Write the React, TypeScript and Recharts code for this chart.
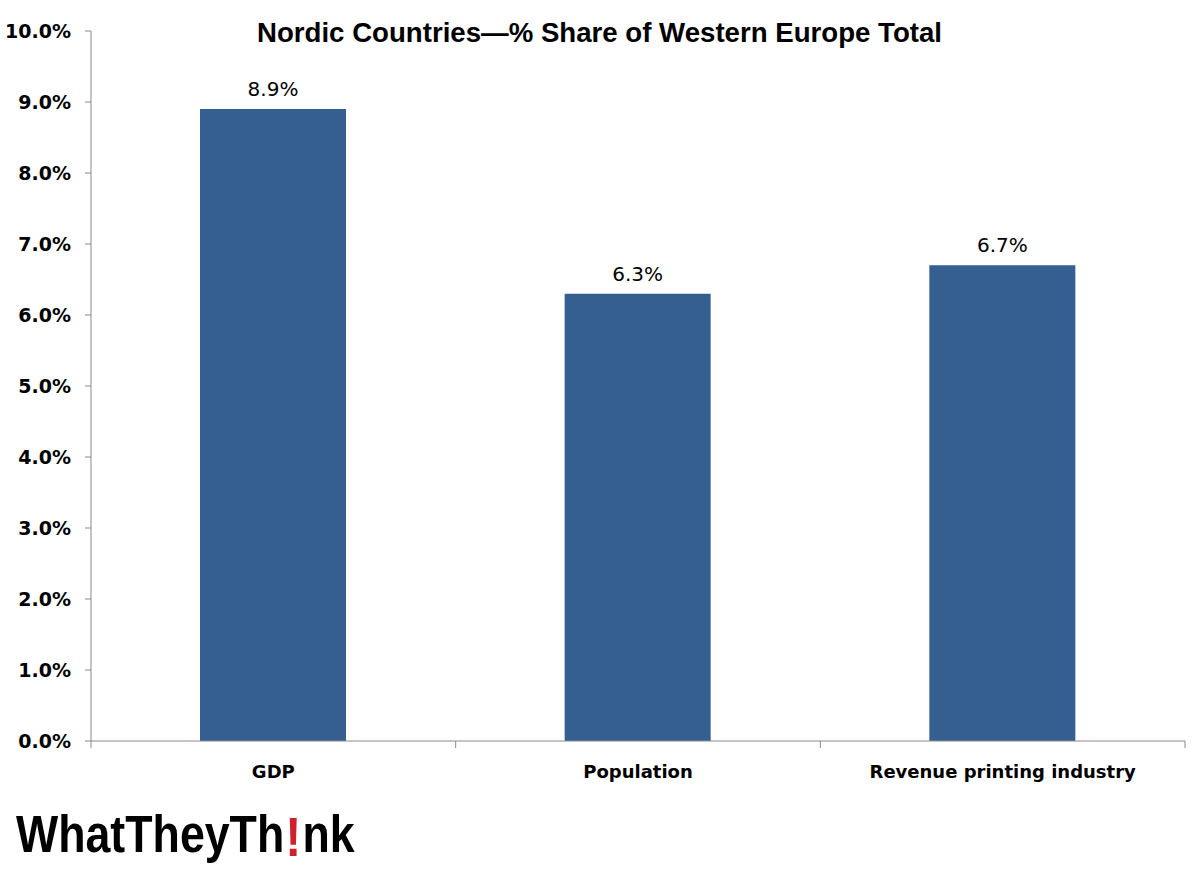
import { BarChart, Bar, XAxis, YAxis, LabelList } from 'recharts';

const categories = ['GDP', 'Population', 'Revenue printing industry'];
const shares = [0.089, 0.063, 0.067];
const yTicks = [0, 0.01, 0.02, 0.03, 0.04, 0.05, 0.06, 0.07, 0.08, 0.09, 0.1];

const data = categories.map((name, i) => ({ name, share: shares[i] }));

const AXIS = '#8a8a8a';
const BAR = '#365f91';
const BAND = 1094 / categories.length;

const pct = (v: number) => (v * 100).toFixed(1) + '%';

function CategoryTick(props: any) {
  const { x, y, payload, index } = props;
  return (
    <g>
      <line x1={x + BAND / 2} x2={x + BAND / 2} y1={y} y2={y + 7} stroke={AXIS} />
      {index === 0 && (
        <line x1={x - BAND / 2} x2={x - BAND / 2} y1={y} y2={y + 7} stroke={AXIS} />
      )}
      <text
        x={x}
        y={y + 37}
        textAnchor="middle"
        fill="#000"
        style={{ fontFamily: 'DejaVu Sans', fontWeight: 700, fontSize: 18 }}
      >
        {payload.value}
      </text>
    </g>
  );
}

const logoFont = { fontFamily: 'Liberation Sans', fontWeight: 700, fontSize: 52 };

export default function App() {
  return (
    <div style={{ position: 'absolute', left: 0, top: 0, width: 1200, height: 872, background: '#fff' }}>
      <BarChart
        width={1200}
        height={800}
        data={data}
        margin={{ top: 31, right: 15, bottom: 9, left: 0 }}
      >
        <XAxis
          dataKey="name"
          height={50}
          stroke={AXIS}
          tickSize={0}
          tickMargin={0}
          tickLine={false}
          tick={<CategoryTick />}
          interval={0}
        />
        <YAxis
          width={91}
          domain={[0, 0.1]}
          ticks={yTicks}
          tickFormatter={pct}
          stroke={AXIS}
          tickSize={6}
          tickMargin={14}
          tick={{ fill: '#000', fontFamily: 'DejaVu Sans', fontWeight: 700, fontSize: 19 }}
          interval={0}
        />
        <Bar dataKey="share" fill={BAR} barSize={146} isAnimationActive={false}>
          <LabelList
            dataKey="share"
            position="top"
            offset={13}
            formatter={(v: any) => pct(Number(v))}
            style={{ fill: '#000', fontFamily: 'DejaVu Sans', fontSize: 20 }}
          />
        </Bar>
      </BarChart>
      <svg width={1200} height={872} style={{ position: 'absolute', left: 0, top: 0, pointerEvents: 'none' }}>
        <text
          x={257}
          y={42}
          textLength={685}
          lengthAdjust="spacingAndGlyphs"
          fill="#000"
          style={{ fontFamily: 'Liberation Sans', fontWeight: 700, fontSize: 28 }}
        >
          Nordic Countries—% Share of Western Europe Total
        </text>
        {/* logo, squeezed horizontally */}
        <g transform="translate(16,0) scale(0.86,1)">
          <text x={0} y={852} fill="#000" style={logoFont}>
            WhatTheyTh
          </text>
          <text x={313} y={856} fill="#d0202e" style={{ ...logoFont, fontSize: 56 }}>
            !
          </text>
          <text x={333} y={852} fill="#000" style={logoFont}>
            nk
          </text>
        </g>
      </svg>
    </div>
  );
}
